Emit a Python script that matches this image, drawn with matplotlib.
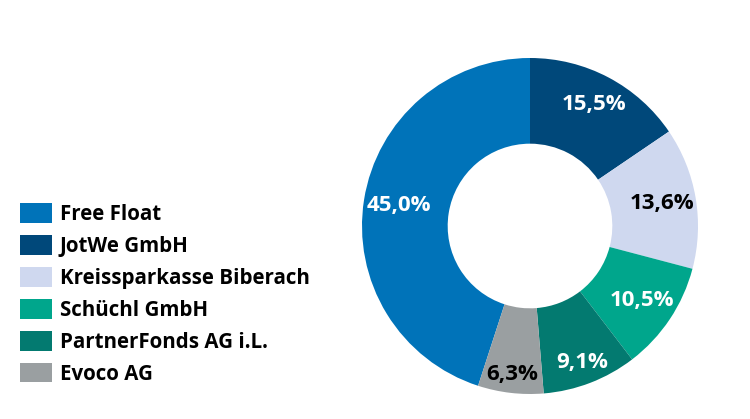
import matplotlib
matplotlib.use("Agg")
import matplotlib.pyplot as plt
import numpy as np
from matplotlib.patches import Patch

plt.rcParams['font.family'] = ['Open Sans', 'DejaVu Sans']

categories = ["Free Float", "JotWe GmbH", "Kreissparkasse Biberach", "Schüchl GmbH",
              "PartnerFonds AG i.L.", "Evoco AG"]
values = [45.0, 15.5, 13.6, 10.5, 9.1, 6.3]
value_labels = ["45,0%", "15,5%", "13,6%", "10,5%", "9,1%", "6,3%"]
colors = ["#0073B9", "#00487A", "#CFD8EF", "#00A68C", "#037A70", "#9A9FA1"]
label_colors = ["white", "white", "black", "white", "white", "black"]
label_radius = [0.79, 0.82, 0.80, 0.80, 0.87, 0.89]

W, H = 750, 419
fig = plt.figure(figsize=(W / 100, H / 100), dpi=100)
cx, cy, R = 530, 226, 168
ax = fig.add_axes([(cx - R) / W, (H - cy - R) / H, 2 * R / W, 2 * R / H])
ax.set_aspect('equal')

total = sum(values)
start = 90 + values[0] / total * 360
wedges, _ = ax.pie(values, colors=colors, startangle=start, counterclock=False,
                   radius=1.0, wedgeprops=dict(width=0.51, linewidth=0))
for w, lab, c, r in zip(wedges, value_labels, label_colors, label_radius):
    ang = np.deg2rad((w.theta1 + w.theta2) / 2)
    ax.text(r * np.cos(ang), r * np.sin(ang), lab, ha='center', va='center',
            fontsize=16, fontweight='bold', color=c)
ax.set_xlim(-1, 1)
ax.set_ylim(-1, 1)
ax.axis('off')

handles = [Patch(facecolor=c, edgecolor='none') for c in colors]
fig.legend(handles, categories, loc='upper left', bbox_to_anchor=(16 / W, 1 - 199 / H),
           frameon=False, prop=dict(size=14.8, weight='bold'), handlelength=1.57,
           handleheight=1.1, handletextpad=0.35, labelspacing=0.49, borderaxespad=0,
           borderpad=0.2)

fig.savefig("out.png", dpi=100)
